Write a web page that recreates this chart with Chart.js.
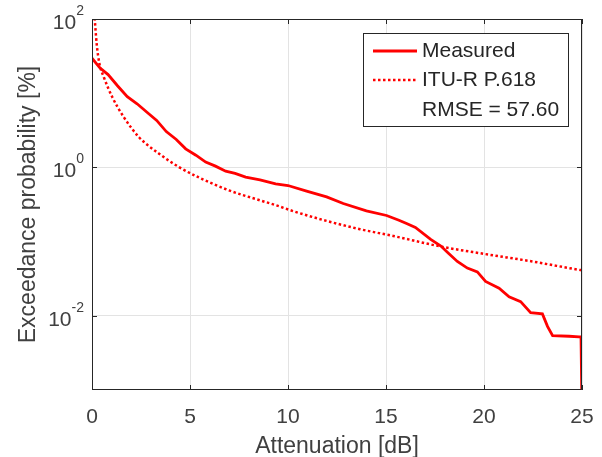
<!DOCTYPE html>
<html>
<head>
<meta charset="utf-8">
<script src="https://cdn.jsdelivr.net/npm/chart.js@4.4.1/dist/chart.umd.min.js"></script>
<style>
  body { margin: 0; background: #fff; }
</style>
</head>
<body>
<canvas id="chart" width="602" height="457"></canvas>
<script>
// values
const measuredX = [0, 0.4, 0.82, 1.3, 1.8, 2.3, 2.82, 3.3, 3.79, 4.3, 4.78, 5.3, 5.8, 6.3, 6.82, 7.3, 7.84, 8.57, 9.37, 10.0,
  10.95, 11.97, 12.82, 14.0, 15.03, 15.66, 16.05, 16.5, 17.28, 17.8, 18.2, 18.64, 19.15, 19.66, 20.08, 20.77, 21.28, 21.87,
  22.38, 22.98, 23.24, 23.5, 24.34, 24.85, 24.95, 25];
const measuredY = [29.6, 22, 17.8, 12.6, 9.0, 7.2, 5.5, 4.3, 3.04, 2.38, 1.78, 1.46, 1.18, 1.04, 0.89, 0.83, 0.74, 0.68, 0.60, 0.57,
  0.48, 0.40, 0.326, 0.26, 0.225, 0.194, 0.175, 0.155, 0.107, 0.087, 0.069, 0.054, 0.044, 0.039, 0.029, 0.0235, 0.018, 0.0155,
  0.011, 0.0106, 0.0072, 0.0054, 0.0053, 0.0052, 0.0052, 0.0005];
const ituX = [0.1, 0.24, 0.38, 0.61, 1.04, 1.63, 2.4, 3.42, 4.44, 5.46, 6.99, 8.57, 9.37, 10.27, 11.97, 13.67, 15.37,
  17.87, 19.9, 22.46, 24.76, 25];
const ituY = [140, 46, 25, 16.3, 8.8, 4.73, 2.55, 1.53, 1.01, 0.73, 0.49, 0.36, 0.31, 0.257, 0.19, 0.147, 0.119,
  0.085, 0.069, 0.054, 0.042, 0.041];
const xTicks = [0, 5, 10, 15, 20, 25];
const yTicks = [0.01, 1, 100];
const legendLabels = ['Measured', 'ITU-R P.618', 'RMSE = 57.60'];

const FONT = "'Liberation Sans', Arial, Helvetica, sans-serif";
const AXIS = '#404040';

const toPoints = (xs, ys) => xs.map((x, i) => ({ x: x, y: ys[i] }));

// box, inner ticks, y labels with exponents, legend
const matlabLook = {
  id: 'matlabLook',
  afterDraw(chart) {
    const ctx = chart.ctx;
    const a = chart.chartArea;
    const xs = chart.scales.x, ys = chart.scales.y;
    ctx.save();
    ctx.strokeStyle = '#262626';
    ctx.lineWidth = 1;
    ctx.beginPath();
    ctx.rect(a.left + 0.5, a.top + 0.5, a.right - a.left - 1, a.bottom - a.top - 1);
    xTicks.forEach(v => {
      const px = Math.round(xs.getPixelForValue(v)) + 0.5;
      ctx.moveTo(px, a.bottom); ctx.lineTo(px, a.bottom - 5);
      ctx.moveTo(px, a.top); ctx.lineTo(px, a.top + 5);
    });
    yTicks.forEach(v => {
      const py = Math.round(ys.getPixelForValue(v)) + 0.5;
      ctx.moveTo(a.left, py); ctx.lineTo(a.left + 5, py);
      ctx.moveTo(a.right, py); ctx.lineTo(a.right - 5, py);
    });
    ctx.stroke();

    // y tick labels: 10 with superscript exponent
    ctx.fillStyle = AXIS;
    ctx.textBaseline = 'middle';
    yTicks.forEach(v => {
      const py = ys.getPixelForValue(v);
      const exp = String(Math.round(Math.log10(v)));
      ctx.font = '14px ' + FONT;
      const ew = ctx.measureText(exp).width;
      const right = a.left - 8;
      ctx.textAlign = 'left';
      ctx.fillText(exp, right - ew, py - 8);
      ctx.font = '21px ' + FONT;
      ctx.textAlign = 'right';
      ctx.fillText('10', right - ew, py + 4);
    });

    // legend box
    const lw = 205, lh = 93;
    const lx = a.right - 14 - lw, ly = a.top + 14;
    ctx.fillStyle = '#fff';
    ctx.fillRect(lx, ly, lw, lh);
    ctx.strokeStyle = '#262626';
    ctx.strokeRect(lx + 0.5, ly + 0.5, lw, lh);
    const rows = [ly + 18, ly + 47, ly + 77];
    ctx.strokeStyle = '#ff0000';
    ctx.lineWidth = 3;
    ctx.beginPath();
    ctx.moveTo(lx + 10, rows[0]); ctx.lineTo(lx + 54, rows[0]);
    ctx.stroke();
    ctx.setLineDash([2.5, 2.5]);
    ctx.lineWidth = 2.5;
    ctx.beginPath();
    ctx.moveTo(lx + 10, rows[1]); ctx.lineTo(lx + 54, rows[1]);
    ctx.stroke();
    ctx.setLineDash([]);
    ctx.fillStyle = '#262626';
    ctx.font = '21px ' + FONT;
    ctx.textAlign = 'left';
    ctx.textBaseline = 'middle';
    legendLabels.forEach((t, i) => ctx.fillText(t, lx + 59, rows[i]));
    ctx.restore();
  }
};

new Chart(document.getElementById('chart'), {
  type: 'line',
  data: {
    datasets: [{
      label: legendLabels[0],
      data: toPoints(measuredX, measuredY),
      borderColor: '#ff0000',
      borderWidth: 2.8,
      pointRadius: 0,
      tension: 0,
      fill: false
    }, {
      label: legendLabels[1],
      data: toPoints(ituX, ituY),
      borderColor: '#ff0000',
      borderWidth: 2.5,
      borderDash: [2.5, 2.5],
      pointRadius: 0,
      cubicInterpolationMode: 'monotone',
      fill: false
    }]
  },
  options: {
    responsive: false,
    animation: false,
    layout: { padding: { top: 19, right: 20, left: 0, bottom: 0 } },
    plugins: { legend: { display: false }, tooltip: { enabled: false } },
    scales: {
      x: {
        type: 'linear',
        min: 0, max: 25,
        afterBuildTicks: s => { s.ticks = xTicks.map(v => ({ value: v })); },
        afterFit: s => { s.height = 67; s.paddingLeft = 0; s.paddingRight = 0; },
        grid: { color: '#e3e3e3', drawTicks: false },
        border: { display: false },
        ticks: { color: AXIS, font: { family: FONT, size: 21 }, padding: 15, maxRotation: 0 },
        title: { display: true, text: 'Attenuation [dB]', color: AXIS, font: { family: FONT, size: 23 }, padding: { top: 0, bottom: -3 } }
      },
      y: {
        type: 'logarithmic',
        min: 0.001, max: 100,
        afterBuildTicks: s => { s.ticks = yTicks.map(v => ({ value: v })); },
        afterFit: s => { s.width = 92; s.paddingTop = 0; s.paddingBottom = 0; },
        grid: { color: '#e3e3e3', drawTicks: false },
        border: { display: false },
        ticks: { display: false },
        title: { display: true, text: 'Exceedance probability [%]', color: AXIS, font: { family: FONT, size: 23 }, padding: { top: 15, bottom: 0 } }
      }
    }
  },
  plugins: [matlabLook]
});
</script>
</body>
</html>
